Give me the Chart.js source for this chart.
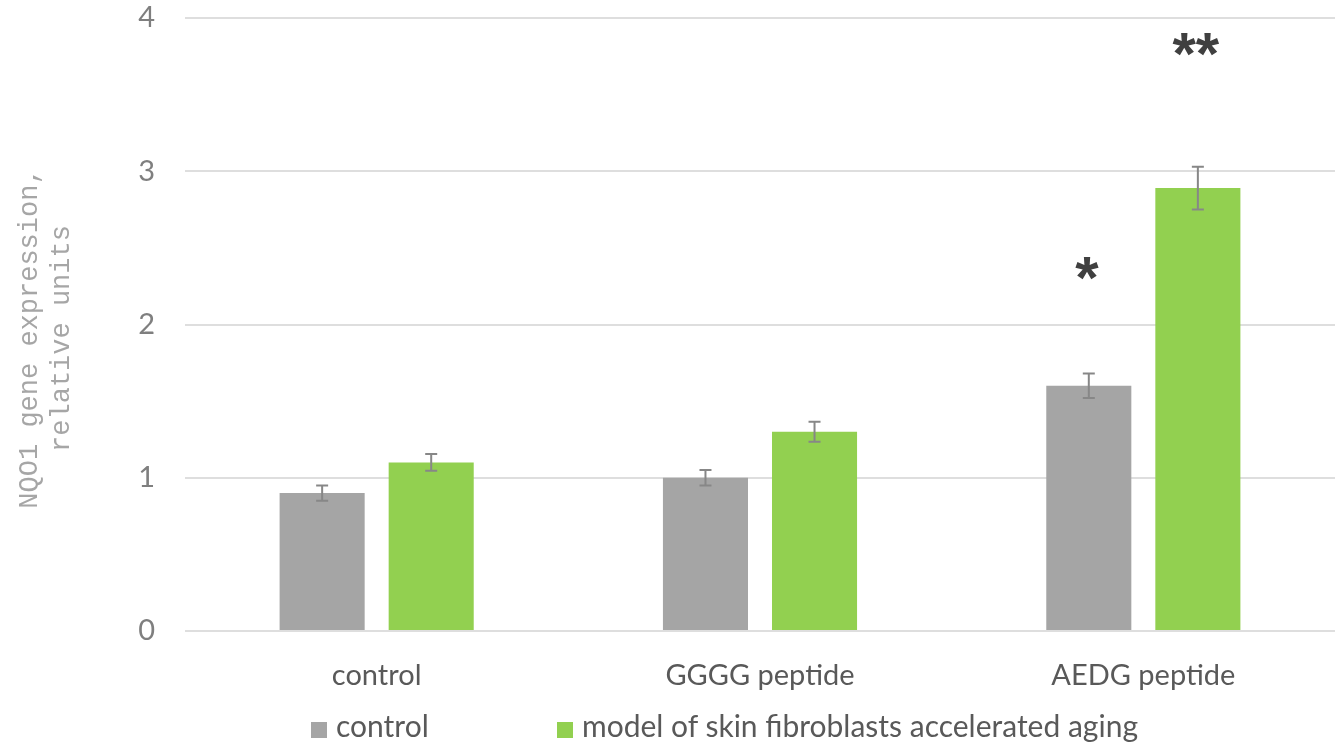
<!DOCTYPE html>
<html>
<head>
<meta charset="utf-8">
<script src="https://cdn.jsdelivr.net/npm/chart.js@4"></script>
<style>
  html, body { margin: 0; padding: 0; background: #fff; }
  #wrap { position: relative; width: 1340px; height: 742px; }
  #legend { position: absolute; left: 0; top: 707px; width: 1340px; height: 36px;
    font-family: Lato, sans-serif; font-size: 30px; color: #595959; }
  .item { position: absolute; top: 0; line-height: 36px; white-space: nowrap; }
  .box { display: inline-block; width: 16px; height: 16px; margin-right: 9px; vertical-align: -1px; }
</style>
</head>
<body>
<div id="wrap">
  <canvas id="chart" width="1340" height="742"></canvas>
  <div id="legend"></div>
</div>
<script>
// groups along the x axis
const categories = ['control', 'GGGG peptide', 'AEDG peptide'];
const seriesNames = ['control', 'model of skin fibroblasts accelerated aging'];
const seriesColors = ['#a5a5a5', '#92d050'];

// mean expression and its error
const controlValues = [0.9, 1.0, 1.6];
const controlErrors = [0.05, 0.05, 0.08];
const agingValues = [1.1, 1.3, 2.89];
const agingErrors = [0.055, 0.065, 0.14];

const yTicks = [0, 1, 2, 3, 4];
const yTitle = ['NQO1 gene expression,', 'relative units'];

// significance marks: dataset, category, height in axis units
const marks = [
    { dataset: 0, index: 2, y: 2.35, text: '*' },
    { dataset: 1, index: 2, y: 3.81, text: '**' }
];

const errors = [controlErrors, agingErrors];

// whiskers with caps on top of each bar
const errorBars = {
    id: 'errorBars',
    afterDatasetsDraw(chart) {
        const ctx = chart.ctx;
        const y = chart.scales.y;
        ctx.save();
        ctx.strokeStyle = '#878787';
        ctx.lineWidth = 2;
        chart.data.datasets.forEach((ds, di) => {
            chart.getDatasetMeta(di).data.forEach((bar, i) => {
                const v = ds.data[i];
                const e = errors[di][i];
                const top = y.getPixelForValue(v + e);
                const bottom = y.getPixelForValue(v - e);
                ctx.beginPath();
                ctx.moveTo(bar.x, top);
                ctx.lineTo(bar.x, bottom);
                ctx.moveTo(bar.x - 6, top);
                ctx.lineTo(bar.x + 6, top);
                ctx.moveTo(bar.x - 6, bottom);
                ctx.lineTo(bar.x + 6, bottom);
                ctx.stroke();
            });
        });
        ctx.restore();
    }
};

// asterisks sit high in the em box, so shift the baseline down
const starMarks = {
    id: 'starMarks',
    afterDatasetsDraw(chart) {
        const ctx = chart.ctx;
        const y = chart.scales.y;
        ctx.save();
        ctx.fillStyle = '#404040';
        ctx.font = 'bold 60px "Liberation Sans"';
        ctx.textAlign = 'center';
        ctx.textBaseline = 'alphabetic';
        marks.forEach(m => {
            const bar = chart.getDatasetMeta(m.dataset).data[m.index];
            ctx.fillText(m.text, bar.x - 2, y.getPixelForValue(m.y) + 27);
        });
        ctx.restore();
    }
};

// two-line rotated title, sitting a little below the plot's middle
const axisTitle = {
    id: 'axisTitle',
    afterDraw(chart) {
        const ctx = chart.ctx;
        const area = chart.chartArea;
        const cy = (area.top + area.bottom) / 2 + 14;
        ctx.save();
        ctx.fillStyle = '#a6a6a6';
        ctx.font = '27px "Liberation Mono"';
        ctx.textAlign = 'center';
        ctx.textBaseline = 'middle';
        yTitle.forEach((line, i) => {
            ctx.save();
            ctx.translate(30 + i * 32, cy);
            ctx.rotate(-Math.PI / 2);
            ctx.fillText(line, 0, 0);
            ctx.restore();
        });
        ctx.restore();
    }
};

new Chart(document.getElementById('chart'), {
    type: 'bar',
    data: {
        labels: categories,
        datasets: [
            { label: seriesNames[0], data: controlValues, backgroundColor: seriesColors[0] },
            { label: seriesNames[1], data: agingValues, backgroundColor: seriesColors[1] }
        ]
    },
    options: {
        responsive: false,
        animation: false,
        devicePixelRatio: 1,
        categoryPercentage: 0.569,
        barPercentage: 0.78,
        layout: { padding: { top: 18, right: 5, bottom: 52, left: 0 } },
        plugins: {
            legend: { display: false },
            tooltip: { enabled: false }
        },
        scales: {
            x: {
                grid: { display: false },
                border: { display: false },
                ticks: {
                    color: '#595959',
                    font: { family: 'Lato', size: 29 },
                    padding: 19
                },
                afterFit(scale) { scale.height = 59; }
            },
            y: {
                min: 0,
                max: 4,
                afterBuildTicks(scale) { scale.ticks = yTicks.map(v => ({ value: v })); },
                grid: { color: '#dedede', lineWidth: 2, drawTicks: false },
                border: { display: false },
                ticks: {
                    color: '#7f7f7f',
                    font: { family: 'Lato', size: 29 },
                    padding: 30
                },
                afterFit(scale) {
                    scale.width = 185;
                    scale.paddingTop = 0;
                    scale.paddingBottom = 0;
                }
            }
        }
    },
    plugins: [errorBars, starMarks, axisTitle]
});

// legend row under the axis
const legend = document.getElementById('legend');
const legendX = [311, 557];
seriesNames.forEach((name, i) => {
    const item = document.createElement('div');
    item.className = 'item';
    item.style.left = legendX[i] + 'px';
    const box = document.createElement('span');
    box.className = 'box';
    box.style.background = seriesColors[i];
    item.appendChild(box);
    item.appendChild(document.createTextNode(name));
    legend.appendChild(item);
});
</script>
</body>
</html>
